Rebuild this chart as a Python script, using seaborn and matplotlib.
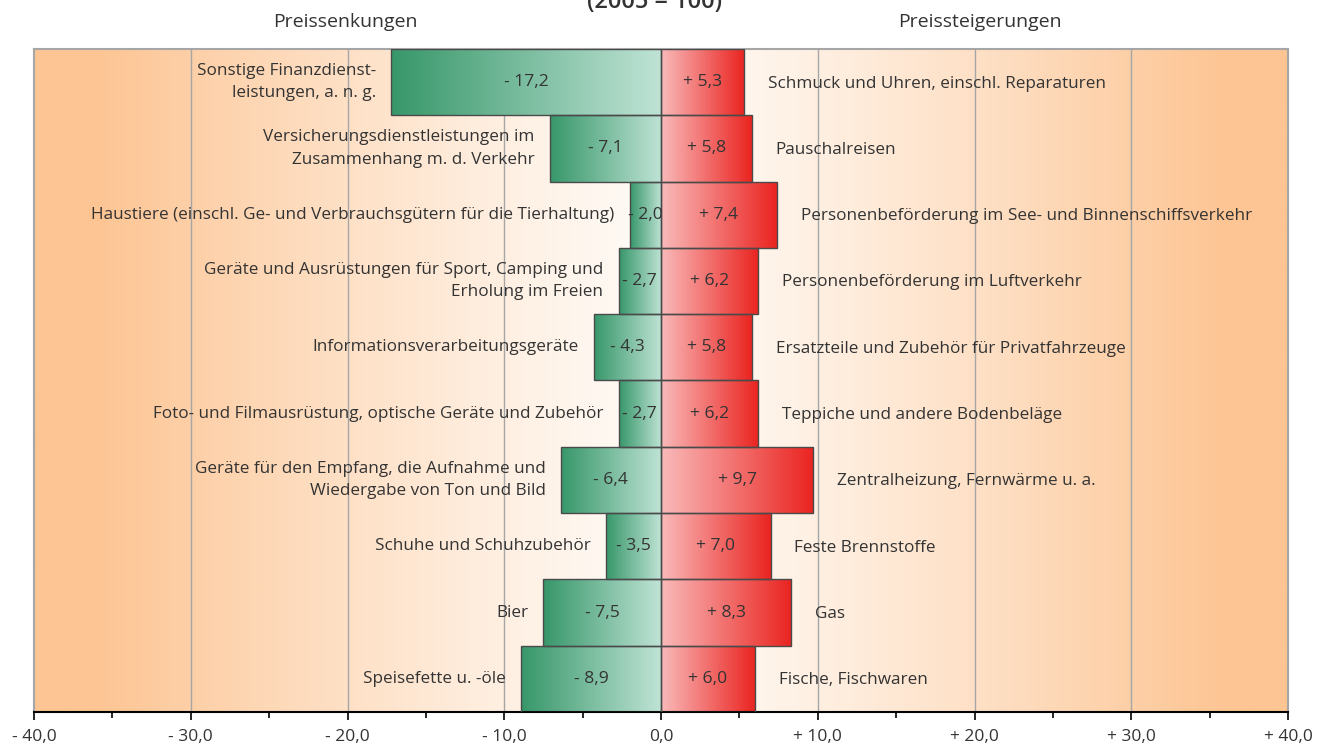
import numpy as np
import pandas as pd
import matplotlib
matplotlib.use("Agg")
import matplotlib.pyplot as plt
import seaborn as sns
from matplotlib.colors import LinearSegmentedColormap
from matplotlib.ticker import FixedLocator, MultipleLocator

left_cats = [
    "Sonstige Finanzdienst-\nleistungen, a. n. g.",
    "Versicherungsdienstleistungen im\nZusammenhang m. d. Verkehr",
    "Haustiere (einschl. Ge- und Verbrauchsgütern für die Tierhaltung)",
    "Geräte und Ausrüstungen für Sport, Camping und\nErholung im Freien",
    "Informationsverarbeitungsgeräte",
    "Foto- und Filmausrüstung, optische Geräte und Zubehör",
    "Geräte für den Empfang, die Aufnahme und\nWiedergabe von Ton und Bild",
    "Schuhe und Schuhzubehör",
    "Bier",
    "Speisefette u. -öle",
]
left_vals = [-17.2, -7.1, -2.0, -2.7, -4.3, -2.7, -6.4, -3.5, -7.5, -8.9]

right_cats = [
    "Schmuck und Uhren, einschl. Reparaturen",
    "Pauschalreisen",
    "Personenbeförderung im See- und Binnenschiffsverkehr",
    "Personenbeförderung im Luftverkehr",
    "Ersatzteile und Zubehör für Privatfahrzeuge",
    "Teppiche und andere Bodenbeläge",
    "Zentralheizung, Fernwärme u. a.",
    "Feste Brennstoffe",
    "Gas",
    "Fische, Fischwaren",
]
right_vals = [5.3, 5.8, 7.4, 6.2, 5.8, 6.2, 9.7, 7.0, 8.3, 6.0]

tick_vals = [-40, -30, -20, -10, 0, 10, 20, 30, 40]
tick_labels = ["- 40,0", "- 30,0", "- 20,0", "- 10,0", "0,0",
               "+ 10,0", "+ 20,0", "+ 30,0", "+ 40,0"]

sns.set_style("white")
plt.rcParams["font.family"] = ["Open Sans", "DejaVu Sans"]
txt_col = "#333333"
fs = 12.3

rows = [f"r{i}" for i in range(len(left_vals))]
df = pd.DataFrame({"row": rows, "down": left_vals, "up": right_vals})

fig = plt.figure(figsize=(13.28, 7.47), dpi=100)
ax = fig.add_axes([34 / 1328, 1 - 712 / 747, (1288 - 34) / 1328, (712 - 49) / 747])

sns.barplot(data=df, x="down", y="row", orient="h", width=1.0, ax=ax,
            color="#3a9a6c", edgecolor="#4a4a4a", linewidth=1.0, zorder=3)
sns.barplot(data=df, x="up", y="row", orient="h", width=1.0, ax=ax,
            color="#ea2520", edgecolor="#4a4a4a", linewidth=1.0, zorder=3)

ax.set_xlim(-40, 40)
ax.set_ylim(len(rows) - 0.5, -0.5)

# background gradient: orange at the edges, white in the middle
xs = np.linspace(-40, 40, 801)
t = np.clip(np.abs(xs) / 36, 0, 1) ** 1.2
bg = LinearSegmentedColormap.from_list("bg", ["#fffbf7", "#fdc594"])
ax.imshow(t[None, :], cmap=bg, aspect="auto", vmin=0, vmax=1,
          extent=[-40, 40, len(rows) - 0.5, -0.5], zorder=0)

green = LinearSegmentedColormap.from_list("g", ["#37976a", "#bfe3d5"])
red = LinearSegmentedColormap.from_list("r", ["#f9baba", "#ea2420"])
grad = np.linspace(0, 1, 256)[None, :]
for p in ax.patches:
    x0, w = p.get_x(), p.get_width()
    y0, h = p.get_y(), p.get_height()
    if w == 0:
        continue
    left, right = min(x0, x0 + w), max(x0, x0 + w)
    cmap = green if left < 0 else red
    im = ax.imshow(grad, cmap=cmap, aspect="auto",
                   extent=[left, right, y0 + h, y0], zorder=2)
    im.set_clip_path(p)
    p.set_facecolor("none")

ax.set_xlim(-40, 40)
ax.set_ylim(len(rows) - 0.5, -0.5)

for x in tick_vals[1:-1]:
    ax.axvline(x, color="#a6a6a6", lw=1.0, zorder=1)

# value labels and category labels
for i, (lv, rv) in enumerate(zip(left_vals, right_vals)):
    ax.text(lv / 2, i, "- " + f"{abs(lv):.1f}".replace(".", ","), ha="center",
            va="center", fontsize=fs + 0.3, color=txt_col, zorder=5)
    ax.text(rv / 2, i, "+ " + f"{rv:.1f}".replace(".", ","), ha="center",
            va="center", fontsize=fs + 0.3, color=txt_col, zorder=5)
    ax.annotate(left_cats[i], (lv, i), xytext=(-11, 0), textcoords="offset points",
                ha="right", va="center", multialignment="right", fontsize=fs,
                color=txt_col, linespacing=1.55, zorder=5)
    ax.annotate(right_cats[i], (rv, i), xytext=(17, -1), textcoords="offset points",
                ha="left", va="center", fontsize=fs, color=txt_col, zorder=5)

ax.xaxis.set_major_locator(FixedLocator(tick_vals))
ax.set_xticklabels(tick_labels, fontsize=12.5, color=txt_col)
ax.xaxis.set_minor_locator(MultipleLocator(5))
ax.tick_params(axis="x", which="major", direction="out", length=6, width=1.2,
               color="black", pad=6, bottom=True)
ax.tick_params(axis="x", which="minor", direction="out", length=4, width=1.2,
               color="black", bottom=True)
ax.set_yticks([])
ax.set_xlabel("")
ax.set_ylabel("")

for side in ["top", "left", "right"]:
    ax.spines[side].set_color("#a6a6a6")
    ax.spines[side].set_linewidth(1.5)
ax.spines["bottom"].set_color("black")
ax.spines["bottom"].set_linewidth(1.5)

fig.text(655 / 1328, 1 - 8 / 747, "(2005 = 100)", ha="center", va="baseline",
         fontsize=17, fontweight="semibold", color=txt_col)
fig.text(345 / 1328, 1 - 22 / 747, "Preissenkungen", ha="center", va="center",
         fontsize=14, color=txt_col)
fig.text(980 / 1328, 1 - 22 / 747, "Preissteigerungen", ha="center", va="center",
         fontsize=14, color=txt_col)

fig.savefig("out.png", dpi=100)
